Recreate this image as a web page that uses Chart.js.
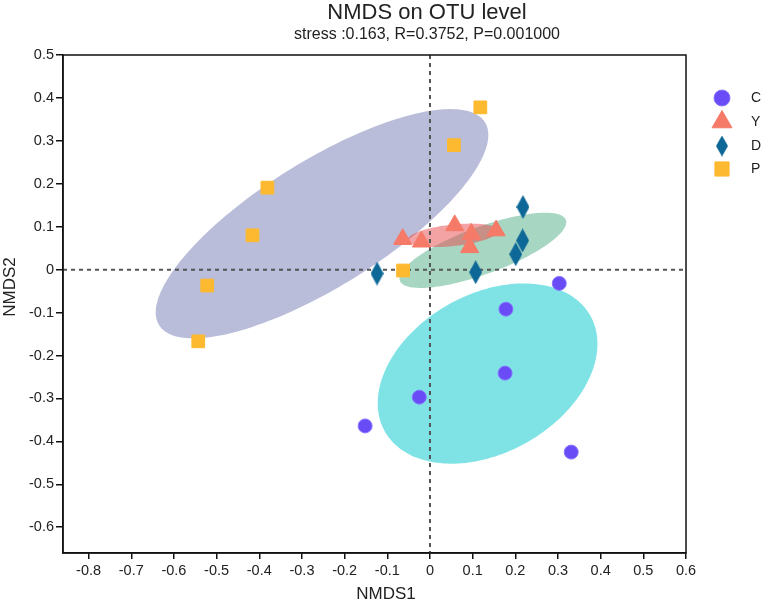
<!DOCTYPE html>
<html>
<head>
<meta charset="utf-8">
<script src="https://cdn.jsdelivr.net/npm/chart.js@4.4.0/dist/chart.umd.min.js"></script>
<style>
  body { margin: 0; background: #fff; }
</style>
</head>
<body>
<canvas id="myChart" width="765" height="605"></canvas>
<script>
// groups
const groups = ["C", "Y", "D", "P"];

// sample scores
const cX = [0.303, 0.178, 0.176, -0.025, -0.152, 0.331];
const cY = [-0.032, -0.092, -0.241, -0.297, -0.364, -0.425];
const yX = [-0.064, -0.020, 0.058, 0.097, 0.093, 0.155];
const yY = [0.071, 0.065, 0.103, 0.083, 0.052, 0.091];
const dX = [0.218, 0.217, 0.201, 0.107, -0.124];
const dY = [0.146, 0.068, 0.036, -0.006, -0.009];
const pX = [0.118, 0.056, -0.381, -0.416, -0.522, -0.543, -0.063];
const pY = [0.378, 0.290, 0.191, 0.080, -0.037, -0.167, -0.002];

// confidence ellipses per group (C, Y, D, P): centre, semi axes, tilt in degrees
const ellCx = [0.135, 0.054, 0.124, -0.253];
const ellCy = [-0.242, 0.080, 0.045, 0.107];
const ellA = [0.276, 0.107, 0.207, 0.449];
const ellB = [0.185, 0.025, 0.055, 0.147];
const ellAngle = [29, 6, 20, 31.7];

// tick labels
const xTicks = [-0.8, -0.7, -0.6, -0.5, -0.4, -0.3, -0.2, -0.1, 0, 0.1, 0.2, 0.3, 0.4, 0.5, 0.6];
const yTicks = [-0.6, -0.5, -0.4, -0.3, -0.2, -0.1, 0, 0.1, 0.2, 0.3, 0.4, 0.5];

const ellColors = [
  "rgba(0, 200, 206, 0.5)",
  "rgba(232, 72, 72, 0.5)",
  "rgba(80, 176, 136, 0.5)",
  "rgba(116, 124, 180, 0.5)",
];
const ellDrawOrder = [3, 0, 2, 1];

function makeDiamond(w, h, color) {
  const c = document.createElement("canvas");
  c.width = w;
  c.height = h;
  const g = c.getContext("2d");
  g.fillStyle = color;
  g.beginPath();
  g.moveTo(w / 2, 0);
  g.lineTo(w, h / 2);
  g.lineTo(w / 2, h);
  g.lineTo(0, h / 2);
  g.closePath();
  g.fill();
  return c;
}
const diamond = makeDiamond(13, 24, "#0d6897");

function toPoints(xs, ys) {
  return xs.map((x, i) => ({ x: x, y: ys[i] }));
}

const fontFamily = "'Liberation Sans', Arial, sans-serif";
Chart.defaults.font.family = fontFamily;
Chart.defaults.color = "#222";

const ellipsePlugin = {
  id: "ellipses",
  beforeDatasetsDraw(chart) {
    const ctx = chart.ctx;
    const xs = chart.scales.x;
    const ys = chart.scales.y;
    ctx.save();
    ellDrawOrder.forEach((k) => {
      const th = (ellAngle[k] * Math.PI) / 180;
      ctx.beginPath();
      for (let i = 0; i <= 180; i++) {
        const t = (i / 180) * Math.PI * 2;
        const dx = ellA[k] * Math.cos(t) * Math.cos(th) - ellB[k] * Math.sin(t) * Math.sin(th);
        const dy = ellA[k] * Math.cos(t) * Math.sin(th) + ellB[k] * Math.sin(t) * Math.cos(th);
        const px = xs.getPixelForValue(ellCx[k] + dx);
        const py = ys.getPixelForValue(ellCy[k] + dy);
        if (i == 0) ctx.moveTo(px, py);
        else ctx.lineTo(px, py);
      }
      ctx.closePath();
      ctx.fillStyle = ellColors[k];
      ctx.fill();
    });

    // zero lines
    const area = chart.chartArea;
    const x0 = xs.getPixelForValue(0);
    const y0 = ys.getPixelForValue(0);
    ctx.strokeStyle = "#555";
    ctx.lineWidth = 2;
    ctx.setLineDash([4, 4]);
    ctx.beginPath();
    ctx.moveTo(area.left, y0);
    ctx.lineTo(area.right, y0);
    ctx.moveTo(x0, area.top);
    ctx.lineTo(x0, area.bottom);
    ctx.stroke();
    ctx.restore();
  },
  afterDraw(chart) {
    const ctx = chart.ctx;
    const area = chart.chartArea;
    ctx.save();
    // frame
    ctx.strokeStyle = "#111";
    ctx.lineWidth = 1.5;
    ctx.strokeRect(area.left, area.top, area.right - area.left, area.bottom - area.top);

    // titles
    ctx.fillStyle = "#222";
    ctx.textAlign = "center";
    ctx.textBaseline = "alphabetic";
    ctx.font = "22px " + fontFamily;
    ctx.fillText("NMDS on OTU level", 427, 19);
    ctx.font = "16px " + fontFamily;
    ctx.fillText("stress :0.163, R=0.3752, P=0.001000", 427, 39);

    // axis titles
    ctx.textBaseline = "middle";
    ctx.font = "17px " + fontFamily;
    ctx.fillText("NMDS1", 386, 594);
    ctx.save();
    ctx.translate(10, 287);
    ctx.rotate(-Math.PI / 2);
    ctx.fillText("NMDS2", 0, 0);
    ctx.restore();

    // legend
    const legY = [98, 122, 146, 169];
    ctx.textAlign = "left";
    ctx.textBaseline = "middle";
    ctx.font = "14px " + fontFamily;
    chart.data.datasets.forEach((ds, i) => {
      const style = i == 2 ? makeDiamond(12, 21, ds.backgroundColor) : ds.pointStyle;
      const r = [8, 11.5, 10, 10][i];
      ctx.fillStyle = ds.backgroundColor;
      ctx.strokeStyle = ds.borderColor;
      ctx.lineWidth = 1;
      Chart.helpers.drawPoint(ctx, { pointStyle: style, radius: r, borderWidth: 1, rotation: 0 }, 722, legY[i]);
      ctx.fillStyle = "#222";
      ctx.fillText(ds.label, 751, legY[i]);
    });
    ctx.restore();
  },
};

const data = {
  datasets: [
    {
      label: groups[0],
      data: toPoints(cX, cY),
      pointStyle: "circle",
      pointRadius: 7,
      backgroundColor: "#6a4cf6",
      borderColor: "#8575ff",
      borderWidth: 1,
    },
    {
      label: groups[1],
      data: toPoints(yX, yY),
      pointStyle: "triangle",
      pointRadius: 10.5,
      backgroundColor: "#f67a68",
      borderColor: "#f67a68",
      borderWidth: 1,
    },
    {
      label: groups[2],
      data: toPoints(dX, dY),
      pointStyle: diamond,
      backgroundColor: "#0d6897",
      borderColor: "#0d6897",
    },
    {
      label: groups[3],
      data: toPoints(pX, pY),
      pointStyle: "rect",
      pointRadius: 9,
      backgroundColor: "#fdb92f",
      borderColor: "#fdb92f",
      borderWidth: 1,
    },
  ],
};

const tickFont = { size: 14.5 };

const config = {
  type: "scatter",
  data: data,
  options: {
    responsive: false,
    animation: false,
    layout: {
      padding: { top: 55, right: 79, left: 0, bottom: 0 },
    },
    plugins: {
      legend: { display: false },
      tooltip: { enabled: false },
    },
    scales: {
      x: {
        type: "linear",
        min: -0.86,
        max: 0.6,
        afterBuildTicks: (scale) => {
          scale.ticks = xTicks.map((v) => ({ value: v }));
        },
        afterFit: (scale) => {
          scale.height = 52;
        },
        ticks: {
          font: tickFont,
          padding: 3,
          maxRotation: 0,
          autoSkip: false,
          callback: (v) => String(+v.toFixed(1)),
        },
        grid: {
          drawOnChartArea: false,
          drawTicks: true,
          tickLength: 6,
          color: "#111",
          lineWidth: 1.5,
        },
        border: { display: true, color: "#111", width: 1.5 },
      },
      y: {
        type: "linear",
        min: -0.66,
        max: 0.5,
        afterBuildTicks: (scale) => {
          scale.ticks = yTicks.map((v) => ({ value: v }));
        },
        afterFit: (scale) => {
          scale.width = 63;
        },
        ticks: {
          font: tickFont,
          padding: 2,
          autoSkip: false,
          callback: (v) => String(+v.toFixed(1)),
        },
        grid: {
          drawOnChartArea: false,
          drawTicks: true,
          tickLength: 7,
          color: "#111",
          lineWidth: 1.5,
        },
        border: { display: true, color: "#111", width: 1.5 },
      },
    },
  },
  plugins: [ellipsePlugin],
};

const myChart = new Chart(document.getElementById("myChart"), config);
</script>
</body>
</html>
